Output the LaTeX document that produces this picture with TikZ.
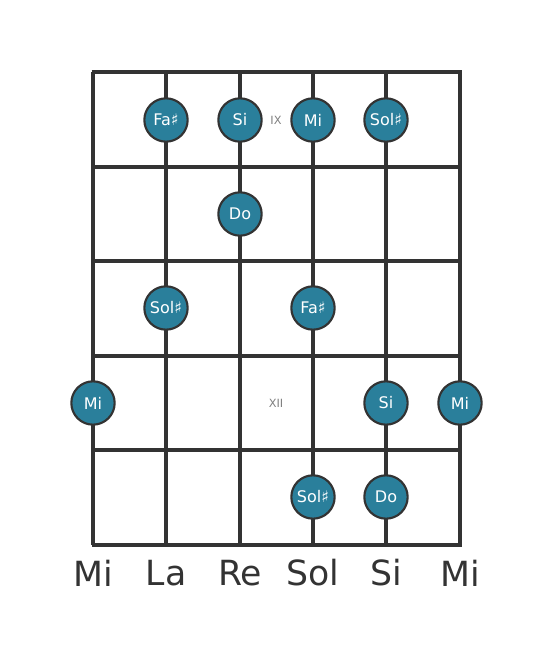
\documentclass[tikz,border=0pt]{standalone}
\usepackage{fontspec}
\setmainfont{DejaVu Sans}
\definecolor{notefill}{RGB}{42,127,155}
\definecolor{gridline}{RGB}{51,51,51}
\tikzset{
    note/.style={circle, draw=gridline, line width=1.6pt, fill=notefill, minimum size=32.5pt, inner sep=0pt, text=white, font=\fontsize{12}{12}\selectfont},
    fretmark/.style={text=gray, font=\fontsize{8.5}{9}\selectfont},
    stringname/.style={text=gridline, font=\fontsize{26}{26}\selectfont}
}
\begin{document}
\begin{tikzpicture}[x=0.75pt, y=-0.75pt]
    \useasboundingbox (0,0) rectangle (553,656);

    % strings
    \draw[gridline, line width=2.4pt] (93,72) -- (93,545);
    \draw[gridline, line width=2.4pt] (166,72) -- (166,545);
    \draw[gridline, line width=2.4pt] (240,72) -- (240,545);
    \draw[gridline, line width=2.4pt] (313,72) -- (313,545);
    \draw[gridline, line width=2.4pt] (386,72) -- (386,545);
    \draw[gridline, line width=2.4pt] (460,72) -- (460,545);

    % frets
    \draw[gridline, line width=3pt] (91.5,72) -- (461.5,72);
    \draw[gridline, line width=3pt] (91.5,167) -- (461.5,167);
    \draw[gridline, line width=3pt] (91.5,261) -- (461.5,261);
    \draw[gridline, line width=3pt] (91.5,356) -- (461.5,356);
    \draw[gridline, line width=3pt] (91.5,450) -- (461.5,450);
    \draw[gridline, line width=3pt] (91.5,545) -- (461.5,545);

    % fret numbers
    \node[fretmark] (ix) at (276,120) {IX};
    \node[fretmark] (xii) at (276,403) {XII};

    % notes
    \node[note] (fa1) at (166,120) {Fa♯};
    \node[note] (si1) at (240,120) {Si};
    \node[note] (mi1) at (313,120) {Mi};
    \node[note] (sol1) at (386,120) {Sol♯};
    \node[note] (do1) at (240,214) {Do};
    \node[note] (sol2) at (166,308) {Sol♯};
    \node[note] (fa2) at (313,308) {Fa♯};
    \node[note] (mi2) at (93,403) {Mi};
    \node[note] (si2) at (386,403) {Si};
    \node[note] (mi3) at (460,403) {Mi};
    \node[note] (sol3) at (313,497) {Sol♯};
    \node[note] (do2) at (386,497) {Do};

    % open strings
    \node[stringname] (s6) at (93,573) {Mi};
    \node[stringname] (s5) at (166,573) {La};
    \node[stringname] (s4) at (240,573) {Re};
    \node[stringname] (s3) at (313,573) {Sol};
    \node[stringname] (s2) at (386,573) {Si};
    \node[stringname] (s1) at (460,573) {Mi};
\end{tikzpicture}
\end{document}
